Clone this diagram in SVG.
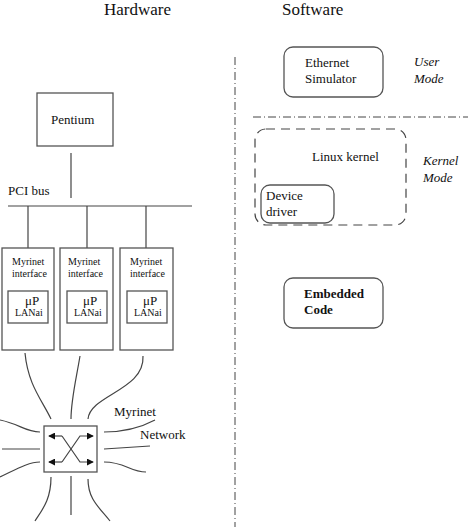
<svg xmlns="http://www.w3.org/2000/svg" width="468" height="527" viewBox="0 0 468 527">
<style>
.t{font-family:"Liberation Serif","Times New Roman",serif;font-size:17px;fill:#111}
.m{font-family:"Liberation Serif","Times New Roman",serif;font-size:13px;fill:#111}
.s{font-family:"Liberation Serif","Times New Roman",serif;font-size:10px;fill:#111}
.i{font-family:"Liberation Serif","Times New Roman",serif;font-size:13px;font-style:italic;fill:#111}
.b{font-family:"Liberation Serif","Times New Roman",serif;font-size:13px;font-weight:bold;fill:#111}
.box{fill:#fff;stroke:#555;stroke-width:1.3}
.ln{fill:none;stroke:#444;stroke-width:1.2}
.dd{fill:none;stroke:#444;stroke-width:1;stroke-dasharray:8,3,1,3}
.dash{fill:none;stroke:#444;stroke-width:1.2;stroke-dasharray:9,6}
</style>
<defs>
<marker id="ah" viewBox="0 0 8 8" refX="7" refY="4" markerWidth="7" markerHeight="7" orient="auto" markerUnits="userSpaceOnUse"><path d="M0,0 L8,4 L0,8 z" fill="#111"/></marker>
</defs>
<g font-family="Liberation Serif, Times New Roman, serif">
<text class="t" x="104" y="15">Hardware</text>
<text class="t" x="282" y="15">Software</text>
<g id="connectors">
<line class="ln" x1="71" y1="153" x2="71" y2="198"/>
<line class="ln" x1="8" y1="206" x2="192" y2="206"/>
<line class="ln" x1="28" y1="206" x2="28" y2="248"/>
<line class="ln" x1="87" y1="206" x2="87" y2="248"/>
<line class="ln" x1="146" y1="206" x2="146" y2="248"/>
<path class="ln" d="M25,353 C28,385 42,400 51,419"/>
<path class="ln" d="M80,356 C76,380 71,400 71,419"/>
<path class="ln" d="M143,356 C145,390 90,395 88,419"/>
<path class="ln" d="M104,432 C125,432 140,428 155,420"/>
<path class="ln" d="M104,449 L150,446"/>
<path class="ln" d="M104,462 C125,462 130,472 146,472"/>
<path class="ln" d="M0,420 C20,424 25,432 40,432"/>
<path class="ln" d="M2,449 L40,449"/>
<path class="ln" d="M0,477 C15,470 28,462 40,462"/>
<path class="ln" d="M51,477 C51,500 42,510 35,521"/>
<path class="ln" d="M71,476 L71,515"/>
<path class="ln" d="M88,479 C88,500 100,508 110,521"/>
<line class="dd" x1="235" y1="57" x2="235" y2="527"/>
<line class="dd" x1="253" y1="117" x2="468" y2="117"/>
</g>
<g id="pentium"><rect class="box" x="37" y="93" width="76" height="53"/><text class="m" x="51" y="124">Pentium</text></g>
<text class="m" x="8" y="195">PCI bus</text>
<g id="myr1"><rect class="box" x="2" y="248" width="52" height="102"/><text class="s" x="12" y="265">Myrinet</text><text class="s" x="12" y="277">interface</text><rect class="box" x="8" y="291" width="40" height="32"/><text class="m" x="25" y="305">μP</text><text class="s" x="15" y="316">LANai</text></g>
<g id="myr2"><rect class="box" x="60" y="248" width="53" height="102"/><text class="s" x="68" y="265">Myrinet</text><text class="s" x="68" y="277">interface</text><rect class="box" x="67" y="291" width="40" height="32"/><text class="m" x="83" y="305">μP</text><text class="s" x="74" y="316">LANai</text></g>
<g id="myr3"><rect class="box" x="120" y="248" width="53" height="102"/><text class="s" x="130" y="265">Myrinet</text><text class="s" x="130" y="277">interface</text><rect class="box" x="127" y="291" width="40" height="32"/><text class="m" x="143" y="305">μP</text><text class="s" x="134" y="316">LANai</text></g>
<g id="switch"><rect class="box" x="44" y="426" width="53" height="46"/>
<path class="ln" d="M62,436 L49,436" marker-end="url(#ah)"/>
<path class="ln" d="M62,436 L80,462 L93,462" marker-end="url(#ah)"/>
<path class="ln" d="M62,462 L49,462" marker-end="url(#ah)"/>
<path class="ln" d="M62,462 L80,436 L93,436" marker-end="url(#ah)"/>
</g>
<text class="m" x="114" y="416">Myrinet</text>
<text class="m" x="140" y="439">Network</text>
<g id="ethsim"><rect class="box" x="284" y="47" width="99" height="50" rx="9"/><text class="m" x="305" y="67">Ethernet</text><text class="m" x="305" y="83">Simulator</text></g>
<text class="i" x="414" y="66">User</text><text class="i" x="414" y="83">Mode</text>
<g id="kernel"><rect class="dash" x="255" y="129" width="151" height="96" rx="11"/><text class="m" x="312" y="161">Linux kernel</text></g>
<text class="i" x="423" y="165">Kernel</text><text class="i" x="423" y="182">Mode</text>
<g id="driver"><rect class="box" x="261" y="185" width="73" height="38" rx="9"/><text class="m" x="266" y="200">Device</text><text class="m" x="266" y="216">driver</text></g>
<g id="embedded"><rect class="box" x="284" y="278" width="99" height="50" rx="9"/><text class="b" x="304" y="298">Embedded</text><text class="b" x="304" y="314">Code</text></g>
</g>
</svg>
